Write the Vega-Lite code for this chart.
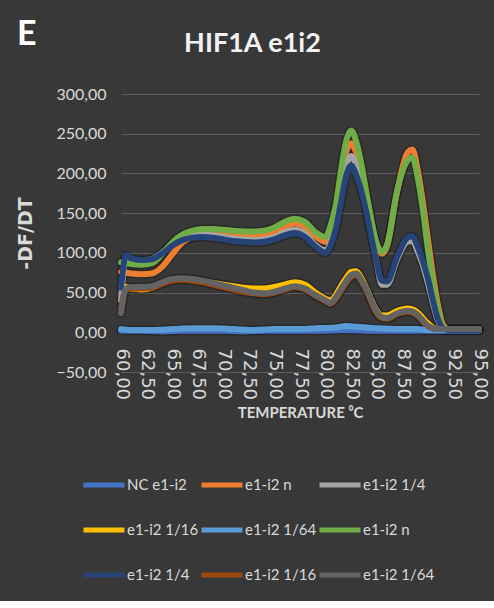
{
  "$schema": "https://vega.github.io/schema/vega-lite/v6.json",
  "background": "#383838",
  "padding": {"left": 16, "top": 18, "right": 7, "bottom": 16},
  "title": {
    "text": "HIF1A e1i2",
    "anchor": "middle",
    "frame": "bounds",
    "font": "Lato",
    "fontSize": 27,
    "fontWeight": "bold",
    "color": "#f2f2f2",
    "baseline": "alphabetic",
    "offset": -61
  },
  "data": {
    "values": [
      {"t": 60, "k": "1", "v": 2}, {"t": 62, "k": "1", "v": 2}, {"t": 64, "k": "1", "v": 1}, {"t": 66, "k": "1", "v": 2},
      {"t": 68, "k": "1", "v": 2}, {"t": 70, "k": "1", "v": 2}, {"t": 72, "k": "1", "v": 1}, {"t": 74, "k": "1", "v": 2},
      {"t": 76, "k": "1", "v": 2}, {"t": 78, "k": "1", "v": 2}, {"t": 80, "k": "1", "v": 2}, {"t": 82, "k": "1", "v": 3},
      {"t": 84, "k": "1", "v": 2}, {"t": 86, "k": "1", "v": 2}, {"t": 88, "k": "1", "v": 2}, {"t": 90, "k": "1", "v": 2},
      {"t": 92, "k": "1", "v": 2}, {"t": 95, "k": "1", "v": 2},

      {"t": 60, "k": "2", "v": 76}, {"t": 60.5, "k": "2", "v": 75}, {"t": 61, "k": "2", "v": 74}, {"t": 62, "k": "2", "v": 73},
      {"t": 63, "k": "2", "v": 74}, {"t": 64, "k": "2", "v": 82}, {"t": 65, "k": "2", "v": 98}, {"t": 66, "k": "2", "v": 113},
      {"t": 67, "k": "2", "v": 120}, {"t": 68, "k": "2", "v": 123}, {"t": 69, "k": "2", "v": 124}, {"t": 70, "k": "2", "v": 123},
      {"t": 71, "k": "2", "v": 122}, {"t": 72, "k": "2", "v": 121}, {"t": 73, "k": "2", "v": 121}, {"t": 74, "k": "2", "v": 122},
      {"t": 75, "k": "2", "v": 126}, {"t": 76, "k": "2", "v": 133}, {"t": 77, "k": "2", "v": 137}, {"t": 78, "k": "2", "v": 133},
      {"t": 79, "k": "2", "v": 121}, {"t": 80, "k": "2", "v": 114}, {"t": 80.5, "k": "2", "v": 126}, {"t": 81, "k": "2", "v": 150},
      {"t": 81.5, "k": "2", "v": 190}, {"t": 82, "k": "2", "v": 226}, {"t": 82.5, "k": "2", "v": 238}, {"t": 83, "k": "2", "v": 226},
      {"t": 83.5, "k": "2", "v": 205}, {"t": 84, "k": "2", "v": 172}, {"t": 85, "k": "2", "v": 110}, {"t": 85.5, "k": "2", "v": 99},
      {"t": 86, "k": "2", "v": 108}, {"t": 87, "k": "2", "v": 178}, {"t": 88, "k": "2", "v": 226}, {"t": 88.5, "k": "2", "v": 230},
      {"t": 89, "k": "2", "v": 205}, {"t": 89.5, "k": "2", "v": 165}, {"t": 90, "k": "2", "v": 118}, {"t": 90.5, "k": "2", "v": 72},
      {"t": 91, "k": "2", "v": 34}, {"t": 91.5, "k": "2", "v": 9}, {"t": 92, "k": "2", "v": 4}, {"t": 95, "k": "2", "v": 4},

      {"t": 60, "k": "3", "v": 40}, {"t": 60.5, "k": "3", "v": 95}, {"t": 61, "k": "3", "v": 91}, {"t": 62, "k": "3", "v": 90},
      {"t": 63, "k": "3", "v": 92}, {"t": 64, "k": "3", "v": 100}, {"t": 65, "k": "3", "v": 111}, {"t": 66, "k": "3", "v": 119},
      {"t": 67, "k": "3", "v": 122}, {"t": 68, "k": "3", "v": 123}, {"t": 69, "k": "3", "v": 122}, {"t": 70, "k": "3", "v": 120},
      {"t": 71, "k": "3", "v": 118}, {"t": 72, "k": "3", "v": 117}, {"t": 73, "k": "3", "v": 116}, {"t": 74, "k": "3", "v": 117},
      {"t": 75, "k": "3", "v": 120}, {"t": 76, "k": "3", "v": 126}, {"t": 77, "k": "3", "v": 129}, {"t": 78, "k": "3", "v": 124},
      {"t": 79, "k": "3", "v": 110}, {"t": 80, "k": "3", "v": 103}, {"t": 80.5, "k": "3", "v": 114}, {"t": 81, "k": "3", "v": 138},
      {"t": 81.5, "k": "3", "v": 170}, {"t": 82, "k": "3", "v": 208}, {"t": 82.5, "k": "3", "v": 222}, {"t": 83, "k": "3", "v": 210},
      {"t": 83.5, "k": "3", "v": 184}, {"t": 84, "k": "3", "v": 155}, {"t": 85, "k": "3", "v": 88}, {"t": 85.5, "k": "3", "v": 60},
      {"t": 86, "k": "3", "v": 60}, {"t": 87, "k": "3", "v": 92}, {"t": 88, "k": "3", "v": 114}, {"t": 88.5, "k": "3", "v": 115},
      {"t": 89, "k": "3", "v": 102}, {"t": 89.5, "k": "3", "v": 85}, {"t": 90, "k": "3", "v": 62}, {"t": 90.5, "k": "3", "v": 36},
      {"t": 91, "k": "3", "v": 14}, {"t": 91.5, "k": "3", "v": 5}, {"t": 92, "k": "3", "v": 3}, {"t": 95, "k": "3", "v": 3},

      {"t": 60, "k": "4", "v": 58}, {"t": 60.5, "k": "4", "v": 57}, {"t": 61, "k": "4", "v": 55}, {"t": 62, "k": "4", "v": 54},
      {"t": 63, "k": "4", "v": 56}, {"t": 64, "k": "4", "v": 62}, {"t": 65, "k": "4", "v": 66}, {"t": 66, "k": "4", "v": 67},
      {"t": 67, "k": "4", "v": 66}, {"t": 68, "k": "4", "v": 64}, {"t": 69, "k": "4", "v": 62}, {"t": 70, "k": "4", "v": 60},
      {"t": 71, "k": "4", "v": 58}, {"t": 72, "k": "4", "v": 56}, {"t": 73, "k": "4", "v": 55}, {"t": 74, "k": "4", "v": 55},
      {"t": 75, "k": "4", "v": 57}, {"t": 76, "k": "4", "v": 60}, {"t": 77, "k": "4", "v": 63}, {"t": 78, "k": "4", "v": 60},
      {"t": 79, "k": "4", "v": 50}, {"t": 80, "k": "4", "v": 42}, {"t": 80.5, "k": "4", "v": 40}, {"t": 81, "k": "4", "v": 47},
      {"t": 81.5, "k": "4", "v": 58}, {"t": 82, "k": "4", "v": 68}, {"t": 82.5, "k": "4", "v": 76}, {"t": 83, "k": "4", "v": 77},
      {"t": 83.5, "k": "4", "v": 68}, {"t": 84, "k": "4", "v": 55}, {"t": 85, "k": "4", "v": 27}, {"t": 85.5, "k": "4", "v": 21},
      {"t": 86, "k": "4", "v": 21}, {"t": 87, "k": "4", "v": 27}, {"t": 88, "k": "4", "v": 30}, {"t": 88.5, "k": "4", "v": 29},
      {"t": 89, "k": "4", "v": 25}, {"t": 89.5, "k": "4", "v": 18}, {"t": 90, "k": "4", "v": 11}, {"t": 90.5, "k": "4", "v": 6},
      {"t": 91, "k": "4", "v": 4}, {"t": 91.5, "k": "4", "v": 3}, {"t": 92, "k": "4", "v": 3}, {"t": 95, "k": "4", "v": 3},

      {"t": 60, "k": "5", "v": 4}, {"t": 61, "k": "5", "v": 3}, {"t": 63, "k": "5", "v": 3}, {"t": 65, "k": "5", "v": 4},
      {"t": 67, "k": "5", "v": 5}, {"t": 69, "k": "5", "v": 5}, {"t": 71, "k": "5", "v": 4}, {"t": 73, "k": "5", "v": 3},
      {"t": 75, "k": "5", "v": 4}, {"t": 77, "k": "5", "v": 4}, {"t": 79, "k": "5", "v": 5}, {"t": 81, "k": "5", "v": 6},
      {"t": 82, "k": "5", "v": 8}, {"t": 83, "k": "5", "v": 7}, {"t": 85, "k": "5", "v": 5}, {"t": 87, "k": "5", "v": 4},
      {"t": 89, "k": "5", "v": 4}, {"t": 90, "k": "5", "v": 3}, {"t": 92, "k": "5", "v": 3}, {"t": 95, "k": "5", "v": 3},

      {"t": 60, "k": "6", "v": 88}, {"t": 60.5, "k": "6", "v": 87}, {"t": 61, "k": "6", "v": 86}, {"t": 62, "k": "6", "v": 85},
      {"t": 63, "k": "6", "v": 87}, {"t": 64, "k": "6", "v": 98}, {"t": 65, "k": "6", "v": 113}, {"t": 66, "k": "6", "v": 123},
      {"t": 67, "k": "6", "v": 128}, {"t": 68, "k": "6", "v": 130}, {"t": 69, "k": "6", "v": 130}, {"t": 70, "k": "6", "v": 129},
      {"t": 71, "k": "6", "v": 128}, {"t": 72, "k": "6", "v": 127}, {"t": 73, "k": "6", "v": 127}, {"t": 74, "k": "6", "v": 128},
      {"t": 75, "k": "6", "v": 132}, {"t": 76, "k": "6", "v": 139}, {"t": 77, "k": "6", "v": 143}, {"t": 78, "k": "6", "v": 139},
      {"t": 79, "k": "6", "v": 126}, {"t": 80, "k": "6", "v": 120}, {"t": 80.5, "k": "6", "v": 135}, {"t": 81, "k": "6", "v": 160},
      {"t": 81.5, "k": "6", "v": 203}, {"t": 82, "k": "6", "v": 240}, {"t": 82.5, "k": "6", "v": 254}, {"t": 83, "k": "6", "v": 240},
      {"t": 83.5, "k": "6", "v": 212}, {"t": 84, "k": "6", "v": 175}, {"t": 85, "k": "6", "v": 112}, {"t": 85.5, "k": "6", "v": 101},
      {"t": 86, "k": "6", "v": 110}, {"t": 87, "k": "6", "v": 178}, {"t": 88, "k": "6", "v": 216}, {"t": 88.5, "k": "6", "v": 220},
      {"t": 89, "k": "6", "v": 195}, {"t": 89.5, "k": "6", "v": 155}, {"t": 90, "k": "6", "v": 105}, {"t": 90.5, "k": "6", "v": 62},
      {"t": 91, "k": "6", "v": 28}, {"t": 91.5, "k": "6", "v": 7}, {"t": 92, "k": "6", "v": 4}, {"t": 95, "k": "6", "v": 4},

      {"t": 60, "k": "7", "v": 56}, {"t": 60.5, "k": "7", "v": 97}, {"t": 61, "k": "7", "v": 93}, {"t": 62, "k": "7", "v": 91},
      {"t": 63, "k": "7", "v": 92}, {"t": 64, "k": "7", "v": 99}, {"t": 65, "k": "7", "v": 109}, {"t": 66, "k": "7", "v": 116},
      {"t": 67, "k": "7", "v": 119}, {"t": 68, "k": "7", "v": 120}, {"t": 69, "k": "7", "v": 119}, {"t": 70, "k": "7", "v": 117},
      {"t": 71, "k": "7", "v": 115}, {"t": 72, "k": "7", "v": 114}, {"t": 73, "k": "7", "v": 113}, {"t": 74, "k": "7", "v": 114},
      {"t": 75, "k": "7", "v": 117}, {"t": 76, "k": "7", "v": 122}, {"t": 77, "k": "7", "v": 125}, {"t": 78, "k": "7", "v": 120},
      {"t": 79, "k": "7", "v": 108}, {"t": 80, "k": "7", "v": 100}, {"t": 80.5, "k": "7", "v": 110}, {"t": 81, "k": "7", "v": 130},
      {"t": 81.5, "k": "7", "v": 163}, {"t": 82, "k": "7", "v": 196}, {"t": 82.5, "k": "7", "v": 210}, {"t": 83, "k": "7", "v": 198},
      {"t": 83.5, "k": "7", "v": 178}, {"t": 84, "k": "7", "v": 150}, {"t": 85, "k": "7", "v": 88}, {"t": 85.5, "k": "7", "v": 65},
      {"t": 86, "k": "7", "v": 64}, {"t": 87, "k": "7", "v": 95}, {"t": 88, "k": "7", "v": 119}, {"t": 88.5, "k": "7", "v": 121},
      {"t": 89, "k": "7", "v": 108}, {"t": 89.5, "k": "7", "v": 90}, {"t": 90, "k": "7", "v": 68}, {"t": 90.5, "k": "7", "v": 40},
      {"t": 91, "k": "7", "v": 16}, {"t": 91.5, "k": "7", "v": 5}, {"t": 92, "k": "7", "v": 3}, {"t": 95, "k": "7", "v": 3},

      {"t": 60, "k": "8", "v": 30}, {"t": 60.5, "k": "8", "v": 54}, {"t": 61, "k": "8", "v": 55}, {"t": 62, "k": "8", "v": 55},
      {"t": 63, "k": "8", "v": 56}, {"t": 64, "k": "8", "v": 61}, {"t": 65, "k": "8", "v": 65}, {"t": 66, "k": "8", "v": 66},
      {"t": 67, "k": "8", "v": 65}, {"t": 68, "k": "8", "v": 63}, {"t": 69, "k": "8", "v": 60}, {"t": 70, "k": "8", "v": 57},
      {"t": 71, "k": "8", "v": 54}, {"t": 72, "k": "8", "v": 51}, {"t": 73, "k": "8", "v": 49}, {"t": 74, "k": "8", "v": 48},
      {"t": 75, "k": "8", "v": 50}, {"t": 76, "k": "8", "v": 54}, {"t": 77, "k": "8", "v": 57}, {"t": 78, "k": "8", "v": 54},
      {"t": 79, "k": "8", "v": 46}, {"t": 80, "k": "8", "v": 39}, {"t": 80.5, "k": "8", "v": 36}, {"t": 81, "k": "8", "v": 42},
      {"t": 81.5, "k": "8", "v": 52}, {"t": 82, "k": "8", "v": 62}, {"t": 82.5, "k": "8", "v": 70}, {"t": 83, "k": "8", "v": 72},
      {"t": 83.5, "k": "8", "v": 64}, {"t": 84, "k": "8", "v": 52}, {"t": 85, "k": "8", "v": 24}, {"t": 85.5, "k": "8", "v": 18},
      {"t": 86, "k": "8", "v": 17}, {"t": 87, "k": "8", "v": 23}, {"t": 88, "k": "8", "v": 26}, {"t": 88.5, "k": "8", "v": 25},
      {"t": 89, "k": "8", "v": 21}, {"t": 89.5, "k": "8", "v": 14}, {"t": 90, "k": "8", "v": 8}, {"t": 90.5, "k": "8", "v": 5},
      {"t": 91, "k": "8", "v": 4}, {"t": 91.5, "k": "8", "v": 4}, {"t": 92, "k": "8", "v": 4}, {"t": 95, "k": "8", "v": 4},

      {"t": 60, "k": "9", "v": 24}, {"t": 60.5, "k": "9", "v": 55}, {"t": 61, "k": "9", "v": 57}, {"t": 62, "k": "9", "v": 57},
      {"t": 63, "k": "9", "v": 58}, {"t": 64, "k": "9", "v": 63}, {"t": 65, "k": "9", "v": 67}, {"t": 66, "k": "9", "v": 68},
      {"t": 67, "k": "9", "v": 67}, {"t": 68, "k": "9", "v": 65}, {"t": 69, "k": "9", "v": 62}, {"t": 70, "k": "9", "v": 59},
      {"t": 71, "k": "9", "v": 56}, {"t": 72, "k": "9", "v": 53}, {"t": 73, "k": "9", "v": 50}, {"t": 74, "k": "9", "v": 49},
      {"t": 75, "k": "9", "v": 51}, {"t": 76, "k": "9", "v": 55}, {"t": 77, "k": "9", "v": 58}, {"t": 78, "k": "9", "v": 55},
      {"t": 79, "k": "9", "v": 47}, {"t": 80, "k": "9", "v": 40}, {"t": 80.5, "k": "9", "v": 37}, {"t": 81, "k": "9", "v": 44},
      {"t": 81.5, "k": "9", "v": 54}, {"t": 82, "k": "9", "v": 64}, {"t": 82.5, "k": "9", "v": 72}, {"t": 83, "k": "9", "v": 74},
      {"t": 83.5, "k": "9", "v": 66}, {"t": 84, "k": "9", "v": 54}, {"t": 85, "k": "9", "v": 26}, {"t": 85.5, "k": "9", "v": 19},
      {"t": 86, "k": "9", "v": 18}, {"t": 87, "k": "9", "v": 24}, {"t": 88, "k": "9", "v": 27}, {"t": 88.5, "k": "9", "v": 26},
      {"t": 89, "k": "9", "v": 22}, {"t": 89.5, "k": "9", "v": 15}, {"t": 90, "k": "9", "v": 8}, {"t": 90.5, "k": "9", "v": 5},
      {"t": 91, "k": "9", "v": 4}, {"t": 91.5, "k": "9", "v": 4}, {"t": 92, "k": "9", "v": 4}, {"t": 95, "k": "9", "v": 4}
    ]
  },
  "vconcat": [
    {
      "title": {
        "text": "E",
        "anchor": "start",
        "frame": "bounds",
        "font": "Lato",
        "fontSize": 34,
        "fontWeight": "bold",
        "color": "#ffffff",
        "baseline": "alphabetic",
        "offset": 7
      },
      "width": 358,
      "height": 278,
      "encoding": {
        "x": {
          "field": "t",
          "type": "quantitative",
          "scale": {"domain": [60, 95], "nice": false, "zero": false},
          "axis": {
            "values": [60, 62.5, 65, 67.5, 70, 72.5, 75, 77.5, 80, 82.5, 85, 87.5, 90, 92.5, 95],
            "labelExpr": "replace(format(datum.value, '.2f'), '.', ',')",
            "labelAngle": 90,
            "labelAlign": "left",
            "labelBaseline": "middle",
            "labelPadding": 16,
            "labelOverlap": false,
            "labelFlush": false,
            "offset": -40,
            "domain": false,
            "ticks": false,
            "grid": false,
            "labelFont": "DejaVu Sans",
            "labelFontSize": 18,
            "labelColor": "#d9d9d9",
            "title": "TEMPERATURE ⁰C",
            "titleFont": "Lato",
            "titleFontSize": 15,
            "titleFontWeight": "bold",
            "titleColor": "#d9d9d9",
            "titlePadding": 6
          }
        },
        "y": {
          "field": "v",
          "type": "quantitative",
          "scale": {"domain": [-50, 300], "nice": false},
          "axis": {
            "values": [-50, 0, 50, 100, 150, 200, 250, 300],
            "labelExpr": "replace(format(datum.value, '.2f'), '.', ',')",
            "grid": true,
            "gridColor": "#5c5c5c",
            "gridWidth": 1,
            "domain": false,
            "ticks": false,
            "labelFont": "Lato",
            "labelFontSize": 16,
            "labelColor": "#d9d9d9",
            "labelPadding": 15,
            "title": "-DF/DT",
            "titleFont": "DejaVu Sans",
            "titleFontSize": 19,
            "titleFontWeight": "bold",
            "titleColor": "#d9d9d9",
            "titlePadding": 20
          }
        }
      },
      "layer": [
        {
          "mark": {"type": "line", "interpolate": "monotone", "strokeWidth": 9, "color": "#111111", "opacity": 0.35, "strokeCap": "round", "strokeJoin": "round"},
          "encoding": {"detail": {"field": "k", "type": "nominal"}}
        },
        {
          "mark": {"type": "line", "interpolate": "monotone", "strokeWidth": 6, "strokeCap": "round", "strokeJoin": "round"},
          "encoding": {
            "color": {
              "field": "k",
              "type": "nominal",
              "scale": {
                "domain": ["1", "2", "3", "4", "5", "6", "7", "8", "9"],
                "range": ["#4472C4", "#ED7D31", "#A5A5A5", "#FFC000", "#5B9BD5", "#70AD47", "#264478", "#9E480E", "#636363"]
              },
              "legend": {
                "title": null,
                "orient": "none",
                "legendX": -40,
                "legendY": 368,
                "columns": 3,
                "direction": "horizontal",
                "symbolType": "stroke",
                "symbolSize": 1681,
                "symbolStrokeWidth": 5,
                "labelFont": "Lato",
                "labelFontSize": 15,
                "labelColor": "#d9d9d9",
                "labelOffset": 0,
                "columnPadding": -15,
                "rowPadding": 12,
                "labelExpr": "['NC e1-i2', 'e1-i2 n', 'e1-i2 1/4', 'e1-i2 1/16', 'e1-i2 1/64', 'e1-i2 n', 'e1-i2 1/4', 'e1-i2 1/16', 'e1-i2 1/64'][toNumber(datum.value) - 1]"
              }
            }
          }
        }
      ]
    }
  ],
  "config": {
    "view": {"stroke": null}
  }
}
